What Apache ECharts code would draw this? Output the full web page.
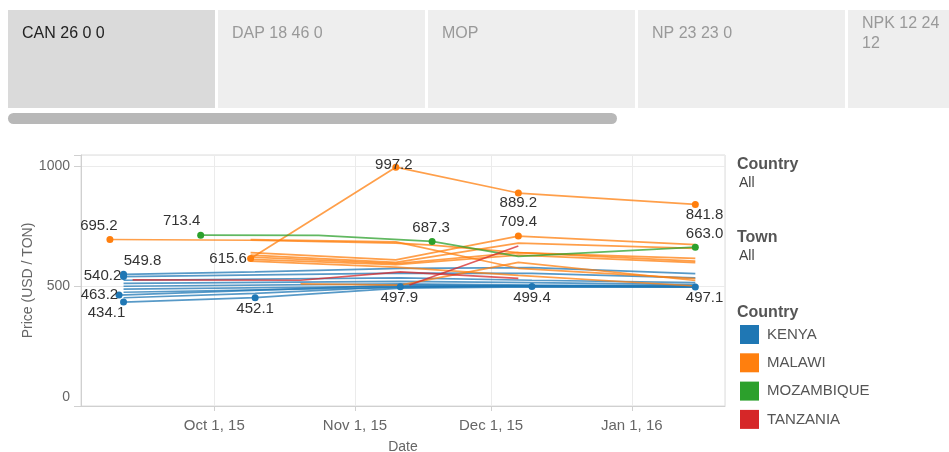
<!DOCTYPE html>
<html>
<head>
<meta charset="utf-8">
<script src="https://cdn.jsdelivr.net/npm/echarts@6/dist/echarts.min.js"></script>
<style>
html,body{margin:0;padding:0;background:#fff;}
#chart{width:949px;height:452px;}
</style>
</head>
<body>
<div id="chart"></div>
<script>
// ---------------- DATA ----------------
const tabLabels = ['CAN 26 0 0', 'DAP 18 46 0', 'MOP', 'NP 23 23 0', 'NPK 12 24\n12'];
const countries = ['KENYA', 'MALAWI', 'MOZAMBIQUE', 'TANZANIA'];
const yTicks = [0, 500, 1000];

// KENYA towns
const kenya1 = [['2015-09-11', 549.8], ['2015-10-10', 560], ['2015-11-11', 575], ['2015-12-10', 578], ['2016-01-15', 553]];
const kenya2 = [['2015-09-11', 540.2], ['2015-11-11', 555], ['2015-12-10', 554], ['2016-01-15', 535]];
const kenya3 = [['2015-09-11', 525], ['2015-11-11', 535], ['2015-12-10', 525], ['2016-01-15', 515]];
const kenya4 = [['2015-09-11', 512], ['2015-11-11', 520], ['2015-12-10', 515], ['2016-01-15', 507]];
const kenya5 = [['2015-09-11', 500], ['2015-11-11', 510], ['2015-12-10', 505], ['2016-01-15', 502]];
const kenya6 = [['2015-09-11', 488], ['2015-11-11', 500], ['2015-12-10', 499.4], ['2016-01-15', 497.1]];
const kenya7 = [['2015-09-10', 463.2], ['2015-11-11', 505], ['2015-12-10', 502], ['2016-01-15', 500]];
const kenya8 = [['2015-09-11', 475], ['2015-11-11', 495], ['2015-12-10', 500], ['2016-01-15', 498]];
const kenya9 = [['2015-09-11', 452], ['2015-10-10', 470], ['2015-11-11', 497.9], ['2015-12-10', 503], ['2016-01-15', 499]];
const kenya10 = [['2015-09-11', 434.1], ['2015-10-10', 452.1], ['2015-11-11', 492], ['2015-12-10', 497], ['2016-01-15', 496]];

// MALAWI towns
const malawi1 = [['2015-09-08', 695.2], ['2015-10-09', 692], ['2015-11-10', 680], ['2015-11-18', 672], ['2015-12-07', 640], ['2016-01-15', 616]];
const malawi2 = [['2015-10-09', 615.6], ['2015-11-10', 997.2], ['2015-12-07', 889.2], ['2016-01-15', 841.8]];
const malawi3 = [['2015-10-09', 640], ['2015-11-10', 610], ['2015-12-07', 709.4], ['2016-01-15', 674]];
const malawi4 = [['2015-10-09', 630], ['2015-11-10', 600], ['2015-12-07', 680], ['2016-01-15', 658]];
const malawi5 = [['2015-10-09', 622], ['2015-11-10', 595], ['2015-12-07', 640], ['2016-01-15', 605]];
const malawi6 = [['2015-10-09', 612], ['2015-11-10', 590], ['2015-12-07', 630], ['2016-01-15', 599]];
const malawi7 = [['2015-10-09', 695], ['2015-11-10', 685], ['2015-12-07', 575], ['2016-01-15', 532]];
const malawi8 = [['2015-10-20', 510], ['2015-11-11', 505], ['2015-12-07', 600], ['2016-01-15', 524]];
const malawi9 = [['2015-10-09', 605], ['2015-11-10', 580], ['2015-12-07', 545], ['2016-01-15', 501]];

// MOZAMBIQUE towns
const mozambique1 = [['2015-09-28', 713.4], ['2015-10-24', 712], ['2015-11-18', 687.3], ['2015-12-07', 625], ['2016-01-15', 663.0]];

// TANZANIA towns
const tanzania1 = [['2015-09-13', 527], ['2015-10-20', 525], ['2015-11-11', 560], ['2015-12-07', 533]];
const tanzania2 = [['2015-11-13', 505], ['2015-12-07', 668]];

const kenyaLines = [kenya1, kenya2, kenya3, kenya4, kenya5, kenya6, kenya7, kenya8, kenya9, kenya10];
const malawiLines = [malawi1, malawi2, malawi3, malawi4, malawi5, malawi6, malawi7, malawi8, malawi9];
const mozambiqueLines = [mozambique1];
const tanzaniaLines = [tanzania1, tanzania2];

// ---------------- STYLE: labelled points (line, point index, label offset) ----------------
const labelled = [
  [malawi1, 0, [-11, -13.5]],
  [mozambique1, 0, [-19, -14]],
  [kenya1, 0, [19, -13.3]],
  [kenya2, 0, [-21, -1]],
  [kenya7, 0, [-19.6, -0.6]],
  [kenya10, 0, [-17, 11]],
  [malawi2, 0, [-22.5, 0]],
  [kenya10, 1, [0, 11.5]],
  [malawi2, 1, [-2, -2.5]],
  [malawi2, 2, [0, 10.3]],
  [malawi3, 2, [0, -14.2]],
  [mozambique1, 2, [-1, -13.7]],
  [kenya9, 2, [-1, 11]],
  [kenya6, 2, [0, 11.4]],
  [malawi2, 3, [9.3, 10.2]],
  [mozambique1, 4, [9.3, -13.7]],
  [kenya6, 3, [9.3, 10.8]]
];

const colors = {KENYA: '#1f77b4', MALAWI: '#ff7f0e', MOZAMBIQUE: '#2ca02c', TANZANIA: '#d62728'};
const months = ['Jan','Feb','Mar','Apr','May','Jun','Jul','Aug','Sep','Oct','Nov','Dec'];

function toTime(s) {
  const p = s.split('-').map(Number);
  return new Date(p[0], p[1] - 1, p[2]).getTime();
}

function buildSeries(lines, country) {
  return lines.map(line => ({
    type: 'line',
    name: country,
    symbol: 'circle',
    symbolSize: 0,
    showSymbol: true,
    showAllSymbol: true,
    animation: false,
    silent: true,
    itemStyle: {color: colors[country]},
    lineStyle: {width: 1.7, opacity: 0.75, color: colors[country]},
    emphasis: {disabled: true},
    data: line.map((pt, i) => {
      const lab = labelled.find(l => l[0] === line && l[1] === i);
      const item = {value: [toTime(pt[0]), pt[1]]};
      if (lab) {
        item.symbolSize = 7;
        item.label = {
          show: true,
          position: 'inside',
          offset: lab[2],
          formatter: () => pt[1].toFixed(1),
          color: '#333',
          fontSize: 15,
          fontFamily: 'Liberation Sans, Arial, sans-serif'
        };
      }
      return item;
    })
  }));
}

const series = [].concat(
  buildSeries(kenyaLines, 'KENYA'),
  buildSeries(malawiLines, 'MALAWI'),
  buildSeries(mozambiqueLines, 'MOZAMBIQUE'),
  buildSeries(tanzaniaLines, 'TANZANIA')
);

// ---------------- GRAPHICS: tabs & side panel ----------------
const tabX = [8, 218, 428, 638, 848];
const graphics = [];
tabLabels.forEach((t, i) => {
  graphics.push({type: 'rect', shape: {x: tabX[i], y: 10, width: 207, height: 98},
    style: {fill: i === 0 ? '#dadada' : '#eeeeee'}, silent: true});
  graphics.push({type: 'text', x: tabX[i] + 14, y: 34,
    style: {text: t, fill: i === 0 ? '#222' : '#999', font: '16px "Liberation Sans", Arial, sans-serif',
      verticalAlign: 'middle', lineHeight: 20}, silent: true});
});
graphics.push({type: 'rect', shape: {x: 8, y: 113, width: 609, height: 11, r: 5.5},
  style: {fill: '#b8b8b8'}, silent: true});
const sideTexts = [
  ['Country', 165, true], ['All', 183.5, false],
  ['Town', 238, true], ['All', 256.5, false],
  ['Country', 312.5, true]
];
sideTexts.forEach(s => {
  graphics.push({type: 'text', x: s[2] ? 737 : 739, y: s[1],
    style: {text: s[0], fill: s[2] ? '#555' : '#444',
      font: (s[2] ? 'bold 16px' : '14px') + ' "Liberation Sans", Arial, sans-serif',
      verticalAlign: 'middle'}, silent: true});
});

const chart = echarts.init(document.getElementById('chart'), null, {renderer: 'canvas'});
chart.setOption({
  animation: false,
  backgroundColor: '#fff',
  textStyle: {fontFamily: '"Liberation Sans", Arial, sans-serif'},
  grid: {left: 81, right: 224, top: 155, bottom: 46, containLabel: false, outerBoundsMode: 'none',
    show: true, borderColor: '#dcdcdc', borderWidth: 1, backgroundColor: 'transparent'},
  legend: {
    data: countries,
    orient: 'vertical',
    left: 740, top: 325,
    padding: 0,
    icon: 'rect',
    itemWidth: 19, itemHeight: 19, itemGap: 9.3,
    selectedMode: false,
    textStyle: {fontSize: 15, color: '#555', padding: [0, 0, 0, 3]}
  },
  xAxis: {
    type: 'time',
    min: new Date(2015, 8, 1, 15).getTime(),
    max: new Date(2016, 0, 21, 13).getTime(),
    splitNumber: 4,
    name: 'Date',
    nameLocation: 'middle',
    nameGap: 34,
    nameMoveOverlap: false,
    nameTextStyle: {color: '#666', fontSize: 14},
    axisLine: {show: true, lineStyle: {color: '#d0d0d0'}},
    axisTick: {show: true, length: 5, lineStyle: {color: '#d0d0d0'}},
    splitLine: {show: true, lineStyle: {color: '#ebebeb'}},
    axisLabel: {
      color: '#666', fontSize: 15, margin: 12,
      formatter: v => { const d = new Date(v); return months[d.getMonth()] + ' ' + d.getDate() + ', ' + String(d.getFullYear()).slice(2); }
    }
  },
  yAxis: {
    type: 'value',
    min: 0, max: 1048, interval: 500,
    name: 'Price (USD / TON)',
    nameLocation: 'middle',
    nameGap: 46,
    nameMoveOverlap: false,
    nameTextStyle: {color: '#666', fontSize: 14},
    axisLine: {show: true, lineStyle: {color: '#d0d0d0'}},
    axisTick: {show: true, length: 7, lineStyle: {color: '#d0d0d0'}},
    splitLine: {show: true, lineStyle: {color: '#ebebeb'}},
    axisLabel: {
      color: '#666', fontSize: 14, margin: 11,
      formatter: v => yTicks.indexOf(v) < 0 ? '' : (v === 0 ? '{z|0}' : String(v)),
      rich: {z: {fontSize: 14, color: '#666', padding: [0, 0, 18, 0]}}
    }
  },
  graphic: graphics,
  series: series
});
</script>
</body>
</html>
